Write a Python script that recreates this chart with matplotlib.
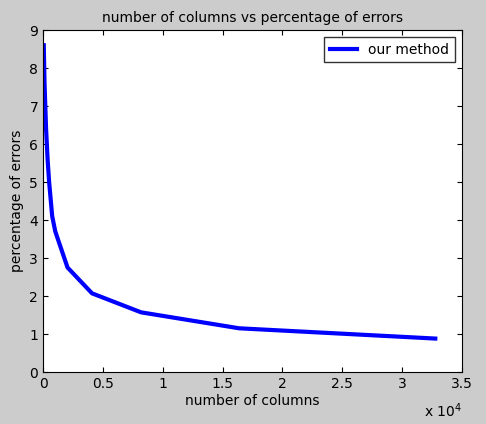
import matplotlib
matplotlib.use("Agg")
import matplotlib.pyplot as plt

columns = [64, 128, 256, 384, 512, 768, 1024, 2048, 4096, 8192, 16384, 32768]
errors = [8.6, 7.6, 6.4, 5.6, 5.0, 4.1, 3.7, 2.75, 2.07, 1.57, 1.15, 0.88]

fig = plt.figure(figsize=(4.86, 4.24), dpi=100, facecolor="#cccccc")
ax = fig.add_axes([43/486, 1 - 372/424, (462-43)/486, (372-30)/424])
ax.plot(columns, errors, color="blue", linewidth=3, label="our method")
ax.set_xlim(0, 35000)
ax.set_ylim(0, 9)
ax.set_xticks([0, 5000, 10000, 15000, 20000, 25000, 30000, 35000])
ax.set_xticklabels(["0", "0.5", "1", "1.5", "2", "2.5", "3", "3.5"])
ax.set_yticks(range(10))
ax.tick_params(direction="in", top=True, right=True, labelsize=10)
ax.text(1.0, -0.085, r"x 10$^4$", transform=ax.transAxes, ha="right", va="top", fontsize=10)
ax.set_xlabel("number of columns", fontsize=10, labelpad=2)
ax.set_ylabel("percentage of errors", fontsize=10, labelpad=4)
ax.set_title("number of columns vs percentage of errors", fontsize=10, pad=6)
ax.legend(loc="upper right", fancybox=False, edgecolor="black", fontsize=10)
fig.savefig("out.png", facecolor=fig.get_facecolor())
